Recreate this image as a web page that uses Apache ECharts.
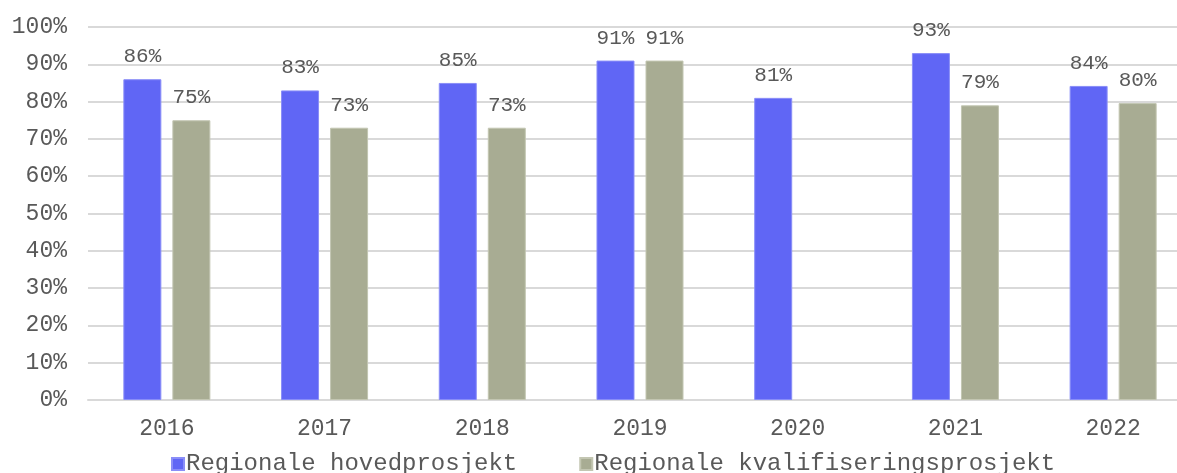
<!DOCTYPE html>
<html><head><meta charset="utf-8">
<script src="https://cdn.jsdelivr.net/npm/echarts@6/dist/echarts.min.js"></script>
<style>html,body{margin:0;padding:0;background:#fff;overflow:hidden;width:1177px;height:473px}#c{width:1192px;height:473px}</style>
</head><body><div id="c"></div>
<script>
const categories = ['2016','2017','2018','2019','2020','2021','2022'];
const hovedprosjekt = [86, 83, 85, 91, 81, 93, 84.2];
const kvalifisering = [75, 73, 73, 91, null, 79, 79.6];
const seriesNames = ['Regionale hovedprosjekt', 'Regionale kvalifiseringsprosjekt'];

const font = '"Liberation Mono", "Courier New", monospace';
const txt = '#595959';
const chart = echarts.init(document.getElementById('c'), null, {renderer:'canvas'});
const lbl = {show:true, position:'top', distance:12, fontFamily:font, fontSize:21, color:txt,
  formatter: p => Math.round(p.value) + '%'};
chart.setOption({
  animation:false,
  grid:{left:88, right:0, top:27, bottom:73, containLabel:false},
  legend:{left:166, top:447, itemWidth:12, itemHeight:12, itemGap:62, icon:'rect',
    textStyle:{fontFamily:font, fontSize:24, color:txt, padding:[0,0,0,-3]}},
  xAxis:{type:'category', data:categories,
    axisLine:{lineStyle:{color:'#D9D9D9', width:2}}, axisTick:{show:false},
    axisLabel:{fontFamily:font, fontSize:23, color:txt, margin:17}},
  yAxis:{type:'value', min:0, max:100, interval:10,
    axisLine:{show:false}, axisTick:{show:false},
    splitLine:{lineStyle:{color:'#D9D9D9', width:2}},
    axisLabel:{fontFamily:font, fontSize:23, color:txt, margin:21, formatter:'{value}%'}},
  series:[
    {name:seriesNames[0], type:'bar', data:hovedprosjekt, barWidth:38, barGap:'29%',
     itemStyle:{color:'#6066F5', borderColor:'#8A8EF8', borderWidth:1}, label:lbl},
    {name:seriesNames[1], type:'bar', data:kvalifisering, barWidth:38,
     itemStyle:{color:'#A8AC93', borderColor:'#C3C6B2', borderWidth:1}, label:lbl}
  ]
});
</script></body></html>
